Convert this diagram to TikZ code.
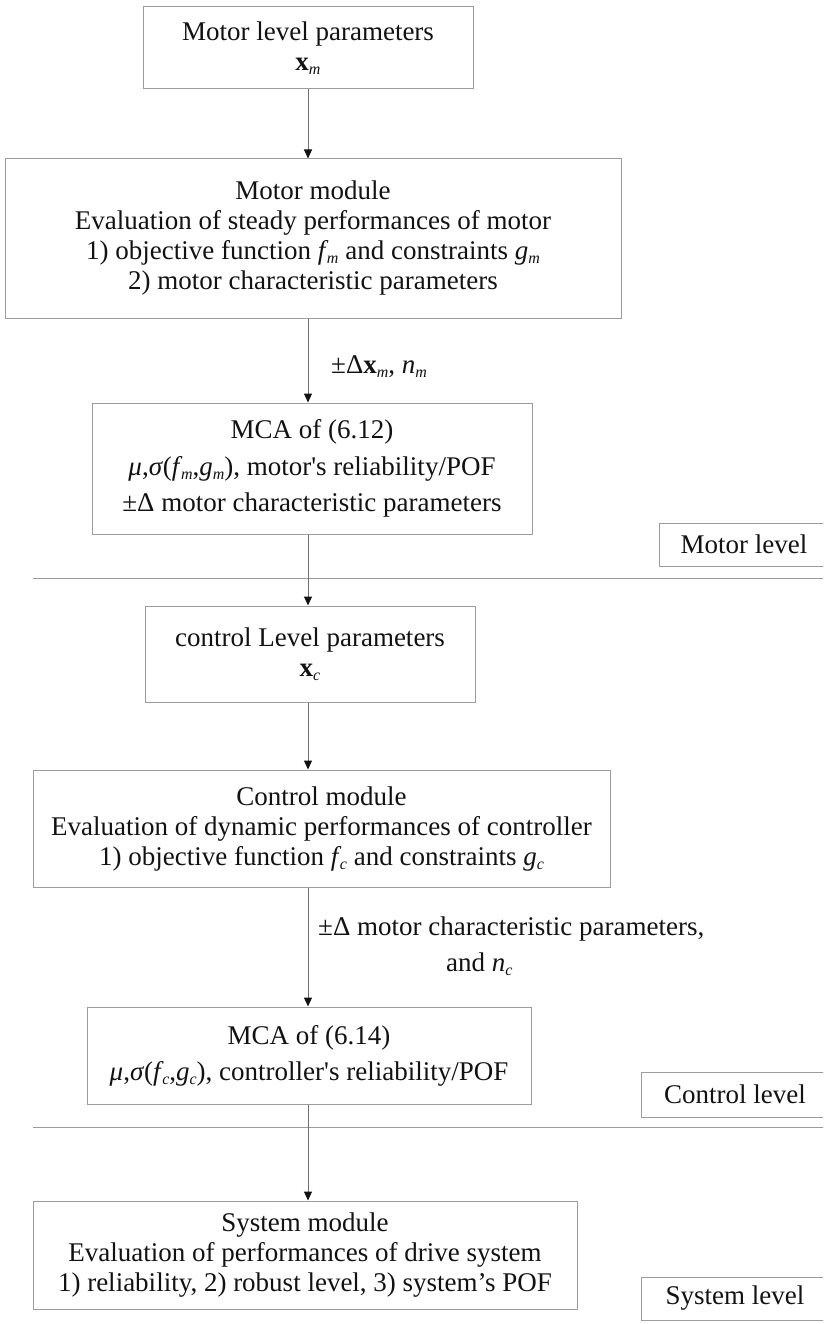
\documentclass[tikz,border=0pt]{standalone}
\usepackage{fontspec}
\setmainfont{Liberation Serif}
\usetikzlibrary{arrows.meta}
\definecolor{boxgray}{HTML}{9C9C9C}
\definecolor{linegray}{HTML}{707070}
\definecolor{inkblack}{HTML}{121212}
% small lowered italic index
\newcommand\ssub[1]{\raisebox{-4pt}{\fontsize{16}{16}\selectfont\itshape #1}}
% italic f with its index pulled in
\newcommand\fidx[1]{\textit{f}\kern-1.5pt\ssub{#1}}
\begin{document}
\begin{tikzpicture}[x=1pt,y=-1pt,
  every node/.style={font=\fontsize{27}{30}\selectfont, text=inkblack},
  box/.style={draw=boxgray, line width=1pt, inner sep=0pt, align=center},
  levelbox/.style={draw=boxgray, line width=1pt, inner sep=0pt},
  arr/.style={draw=linegray, line width=1pt, -{Triangle[length=9pt,width=8pt,color=inkblack]}},
  sep/.style={draw=boxgray, line width=1pt}]
\useasboundingbox (0,0) rectangle (823,1324);

% motor level
\node[box, minimum width=330pt, minimum height=82pt] (b1) at (308,48)
  {Motor level parameters\\ \textbf{x}\ssub{m}};
\node[box, minimum width=616pt, minimum height=159pt] (b2) at (313,238.5)
  {Motor module\\
   Evaluation of steady performances of motor\\
   1) objective function \fidx{m} and constraints \textit{g}\ssub{m}\\
   2) motor characteristic parameters};
\node[anchor=west, inner sep=0pt] (lab1) at (331,367)
  {±Δ\textbf{x}\ssub{m}, \textit{n}\ssub{m}};
\node[box, minimum width=440pt, minimum height=131pt] (b3) at (312,468.5)
  {MCA of (6.12)\\[7pt]
   \textit{μ},\textit{σ}(\fidx{m},\textit{g}\ssub{m}), motor\textquotesingle s reliability/POF\\[6pt]
   ±Δ motor characteristic parameters};

% control level
\node[box, minimum width=330pt, minimum height=96pt] (b4) at (310,654)
  {control Level parameters\\ \textbf{x}\ssub{c}};
\node[box, minimum width=577pt, minimum height=117pt] (b5) at (321.5,828.5)
  {Control module\\
   Evaluation of dynamic performances of controller\\
   1) objective function \fidx{c} and constraints \textit{g}\ssub{c}};
\node[anchor=north west, inner sep=0pt, align=left] (lab2) at (318,917)
  {±Δ motor characteristic parameters,\\[6pt]
   \hspace*{128pt}and \textit{n}\ssub{c}};
\node[box, minimum width=444pt, minimum height=97pt] (b6) at (309,1055.5)
  {MCA of (6.14)\\[6pt]
   \textit{μ},\textit{σ}(\fidx{c},\textit{g}\ssub{c}), controller\textquotesingle s reliability/POF};

% system level
\node[box, minimum width=544pt, minimum height=108pt] (b7) at (305,1255)
  {System module\\
   Evaluation of performances of drive system\\
   1) reliability, 2) robust level, 3) system’s POF};

% level tags and separators, cut at the right border
\begin{scope}
\clip (0,0) rectangle (823,1324);
\node[levelbox, minimum width=170pt, minimum height=43pt] (ml) at (744,544.5) {Motor level};
\node[levelbox, minimum width=188pt, minimum height=45pt] (cl) at (735,1094.5) {Control level};
\node[levelbox, minimum width=188pt, minimum height=43pt] (sl) at (735,1298.5) {System level};
\coordinate (s1a) at (33,578);
\coordinate (s1b) at (830,578);
\coordinate (s2a) at (33,1127);
\coordinate (s2b) at (830,1127);
\draw[sep] (s1a) -- (s1b);
\draw[sep] (s2a) -- (s2b);
\end{scope}

% flow
\draw[arr] (b1.south) -- (b2.north -| b1.south);
\draw[arr] (b2.south -| b1.south) -- (b3.north -| b1.south);
\draw[arr] (b3.south -| b1.south) -- (b4.north -| b1.south);
\draw[arr] (b4.south -| b1.south) -- (b5.north -| b1.south);
\draw[arr] (b5.south -| b1.south) -- (b6.north -| b1.south);
\draw[arr] (b6.south -| b1.south) -- (b7.north -| b1.south);
\end{tikzpicture}
\end{document}
